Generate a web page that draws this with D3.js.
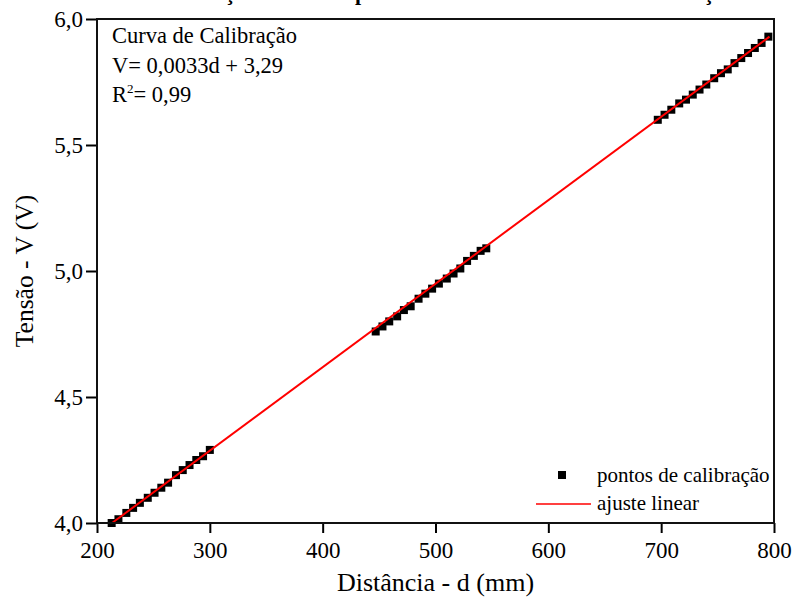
<!DOCTYPE html>
<html>
<head>
<meta charset="utf-8">
<script src="https://cdn.jsdelivr.net/npm/d3@7"></script>
<style>
  body { margin: 0; background: #fff; }
</style>
</head>
<body>
<div id="chart"></div>
<script>
// pontos de calibração (d em mm, V em volts)
const dist1 = [213, 219, 226, 232, 238, 245, 251, 257, 263, 270, 276, 282, 288, 294, 300];
const tens1 = [4.000, 4.015, 4.040, 4.060, 4.080, 4.100, 4.120, 4.140, 4.160, 4.190, 4.210, 4.230, 4.250, 4.265, 4.290];
const dist2 = [447, 453, 459, 466, 472, 478, 485, 491, 497, 503, 510, 516, 522, 528, 534, 540, 545];
const tens2 = [4.760, 4.780, 4.800, 4.820, 4.845, 4.860, 4.890, 4.910, 4.930, 4.950, 4.970, 4.990, 5.010, 5.040, 5.060, 5.080, 5.090];
const dist3 = [697, 703, 709, 716, 722, 728, 734, 740, 747, 753, 759, 765, 771, 777, 783, 789, 795];
const tens3 = [5.600, 5.620, 5.640, 5.665, 5.680, 5.700, 5.720, 5.740, 5.765, 5.785, 5.800, 5.825, 5.845, 5.865, 5.885, 5.905, 5.930];

// ajuste linear
const fitSlope = 0.003312;
const fitIntercept = 3.2935;
const fitRange = [213, 796];

const xTicks = [200, 300, 400, 500, 600, 700, 800];
const yTicks = [4.0, 4.5, 5.0, 5.5, 6.0];

const title = "Relação de tensão pela distância dos sensores de calibração";
const infoLines = ["Curva de Calibração", "V= 0,0033d + 3,29"];

const W = 794, H = 605;
const margin = {top: 19, right: 20, bottom: 82, left: 97};
const width = W - margin.left - margin.right;
const height = H - margin.top - margin.bottom;
const FONT = '"Liberation Serif", "Times New Roman", serif';

const points = [
  ...dist1.map((d, i) => ({d, v: tens1[i]})),
  ...dist2.map((d, i) => ({d, v: tens2[i]})),
  ...dist3.map((d, i) => ({d, v: tens3[i]}))
];

const svg = d3.select("#chart").append("svg")
  .attr("width", W)
  .attr("height", H);

const x = d3.scaleLinear().domain([200, 800]).range([0, width]);
const y = d3.scaleLinear().domain([4, 6]).range([height, 0]);
const comma = d => d3.format(".1f")(d).replace(".", ",");

// titulo cortado no topo
svg.append("text")
  .attr("x", 182)
  .attr("y", 0)
  .attr("font-size", 22)
  .attr("font-weight", "bold")
  .text(title);

const g = svg.append("g")
  .attr("transform", `translate(${margin.left},${margin.top})`);

// eixo x
const xAxis = g.append("g").attr("transform", `translate(0,${height})`);
xAxis.call(d3.axisBottom(x).tickValues(d3.range(250, 800, 100)).tickSize(6).tickFormat(""));
xAxis.call(d3.axisBottom(x).tickValues(xTicks).tickSize(10).tickPadding(9).tickFormat(d => d));
xAxis.selectAll(".domain").remove();

// eixo y
const yAxis = g.append("g");
yAxis.call(d3.axisLeft(y).tickValues([4.25, 4.75, 5.25, 5.75]).tickSize(6).tickFormat(""));
yAxis.call(d3.axisLeft(y).tickValues(yTicks).tickSize(11).tickPadding(3).tickFormat(comma));
yAxis.selectAll(".domain").remove();

g.selectAll(".tick line").attr("stroke", "#000").attr("stroke-width", 2);
g.selectAll(".tick text").attr("font-size", 23).attr("fill", "#000");

// pontos
g.append("g")
  .selectAll("rect")
  .data(points)
  .join("rect")
    .attr("x", p => x(p.d) - 4)
    .attr("y", p => y(p.v) - 4)
    .attr("width", 8)
    .attr("height", 8)
    .attr("fill", "#000");

// reta de ajuste
g.append("line")
  .attr("x1", x(fitRange[0]))
  .attr("y1", y(fitSlope * fitRange[0] + fitIntercept))
  .attr("x2", x(fitRange[1]))
  .attr("y2", y(fitSlope * fitRange[1] + fitIntercept))
  .attr("stroke", "#f00")
  .attr("stroke-width", 2);

// moldura
g.append("rect")
  .attr("width", width)
  .attr("height", height)
  .attr("fill", "none")
  .attr("stroke", "#111")
  .attr("stroke-width", 2);

// texto da curva
const info = g.append("g").attr("font-size", 22.5);
info.selectAll("text.info")
  .data(infoLines)
  .join("text")
    .attr("class", "info")
    .attr("x", 15)
    .attr("y", (d, i) => 24 + i * 30)
    .text(d => d);
const r2 = info.append("text").attr("x", 15).attr("y", 83);
r2.append("tspan").text("R");
r2.append("tspan").attr("dy", -9).attr("font-size", 13).text("2");
r2.append("tspan").attr("dy", 9).text("= 0,99");

// legenda
const leg = g.append("g").attr("font-size", 21);
leg.append("rect")
  .attr("x", 461).attr("y", 452).attr("width", 8).attr("height", 8).attr("fill", "#000");
leg.append("text").attr("x", 500).attr("y", 463).text("pontos de calibração");
leg.append("line")
  .attr("x1", 439).attr("x2", 494).attr("y1", 485).attr("y2", 485)
  .attr("stroke", "#f00").attr("stroke-width", 1.5);
leg.append("text").attr("x", 500).attr("y", 491).text("ajuste linear");

// titulos dos eixos
svg.append("text")
  .attr("x", margin.left + width / 2)
  .attr("y", 591)
  .attr("text-anchor", "middle")
  .attr("font-size", 26)
  .text("Distância - d (mm)");

svg.append("text")
  .attr("transform", `translate(33,${margin.top + height / 2}) rotate(-90)`)
  .attr("text-anchor", "middle")
  .attr("font-size", 25.5)
  .text("Tensão - V (V)");

svg.selectAll("text").style("font-family", FONT);
</script>
</body>
</html>
